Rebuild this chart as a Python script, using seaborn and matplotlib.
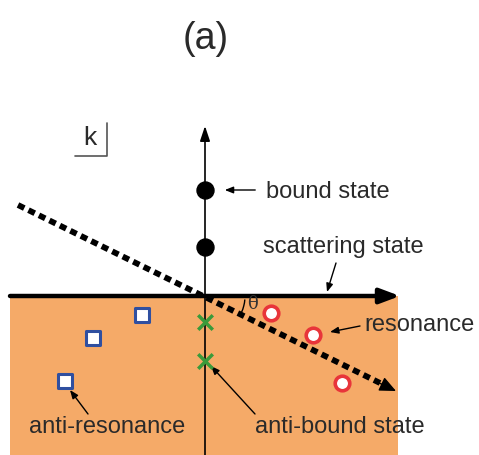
import matplotlib
matplotlib.use("Agg")
import matplotlib.pyplot as plt
import seaborn as sns
import pandas as pd
from matplotlib.patches import Rectangle, Arc

sns.set_style("white")
plt.rcParams['font.family'] = ['Liberation Sans', 'DejaVu Sans']

# pixel-space schematic data (x right, y down)
bound_x = [205, 205]
bound_y = [190, 247]
resonance_x = [271, 313, 342]
resonance_y = [313, 335, 383]
antires_x = [142, 93, 65]
antires_y = [315, 338, 381]
antibound_x = [205, 205]
antibound_y = [322, 361]
contour_x = [18, 380]
contour_y = [205, 383]

fig = plt.figure(figsize=(4.79, 4.55), dpi=100)
ax = fig.add_axes([0, 0, 1, 1])
ax.set_xlim(0, 479)
ax.set_ylim(455, 0)
ax.axis("off")

orange = "#F5AA68"
ax.add_patch(Rectangle((10, 296), 388, 160, facecolor=orange, edgecolor="none", zorder=0))

# axes
ax.annotate("", xy=(400, 296), xytext=(10, 296),
            arrowprops=dict(arrowstyle="-|>,head_length=1.2,head_width=0.45", lw=3.2, color="black",
                            shrinkA=0, shrinkB=0), zorder=2)
ax.annotate("", xy=(205, 126), xytext=(205, 456),
            arrowprops=dict(arrowstyle="-|>,head_length=0.9,head_width=0.3", lw=1.2, color="black",
                            shrinkA=0, shrinkB=0), zorder=2)

# dashed contour
df_c = pd.DataFrame({"x": contour_x, "y": contour_y})
sns.lineplot(data=df_c, x="x", y="y", ax=ax, color="black", lw=4.2, sort=False,
             dashes=False, zorder=3)
ax.lines[-1].set_dashes([1.2, 0.8])
ax.annotate("", xy=(396, 391), xytext=(378, 382.4),
            arrowprops=dict(arrowstyle="-|>,head_length=1.0,head_width=0.45", lw=1, color="black",
                            shrinkA=0, shrinkB=0), zorder=3)

# theta
ax.add_patch(Arc((205, 296), 80, 80, theta1=5, theta2=24, color="black", lw=1.0, zorder=3))
ax.text(253, 304, "θ", fontsize=13, ha="center", va="center", family="DejaVu Serif", color="#333333")

# markers
sns.scatterplot(x=bound_x, y=bound_y, ax=ax, s=150, color="black", edgecolor="black", zorder=4)
sns.scatterplot(x=resonance_x, y=resonance_y, ax=ax, s=110, marker="o", facecolor="white",
                edgecolor="#E8353A", linewidth=2.6, zorder=4)
sns.scatterplot(x=antires_x, y=antires_y, ax=ax, s=90, marker="s", facecolor="white",
                edgecolor="#2F4FA0", linewidth=2.2, zorder=4)
sns.scatterplot(x=antibound_x, y=antibound_y, ax=ax, s=110, marker="x", color="#3A9A3A",
                linewidth=2.5, zorder=4)

# labels
fs = 17
tc = "#2a2a2a"
ax.text(206, 39, "(a)", fontsize=27, ha="center", va="center", color=tc)
ax.text(90, 138, "k", fontsize=19, ha="center", va="center", color=tc)
ax.plot([75, 107, 107], [156, 156, 123], color="#555555", lw=1.2)

ax.text(266, 192, "bound state", fontsize=fs, ha="left", va="center", color=tc)
ax.annotate("", xy=(222, 190), xytext=(258, 190),
            arrowprops=dict(arrowstyle="-|>,head_length=0.5,head_width=0.2", lw=1, color="black"))
ax.text(343, 247, "scattering state", fontsize=fs, ha="center", va="center", color=tc)
ax.annotate("", xy=(327, 292), xytext=(336, 263),
            arrowprops=dict(arrowstyle="-|>,head_length=0.5,head_width=0.2", lw=1, color="black",
                            shrinkA=0, shrinkB=0))
ax.text(364, 325, "resonance", fontsize=fs, ha="left", va="center", color=tc)
ax.annotate("", xy=(330, 332), xytext=(360, 326),
            arrowprops=dict(arrowstyle="-|>,head_length=0.5,head_width=0.2", lw=1, color="black",
                            shrinkA=0, shrinkB=0))
ax.text(107, 427, "anti-resonance", fontsize=fs, ha="center", va="center", color=tc)
ax.annotate("", xy=(70, 390), xytext=(88, 414),
            arrowprops=dict(arrowstyle="-|>,head_length=0.5,head_width=0.2", lw=1, color="black",
                            shrinkA=0, shrinkB=0))
ax.text(340, 427, "anti-bound state", fontsize=fs, ha="center", va="center", color=tc)
ax.annotate("", xy=(211, 366), xytext=(255, 414),
            arrowprops=dict(arrowstyle="-|>,head_length=0.5,head_width=0.2", lw=1, color="black",
                            shrinkA=0, shrinkB=0))

fig.savefig("out.png", dpi=100)
